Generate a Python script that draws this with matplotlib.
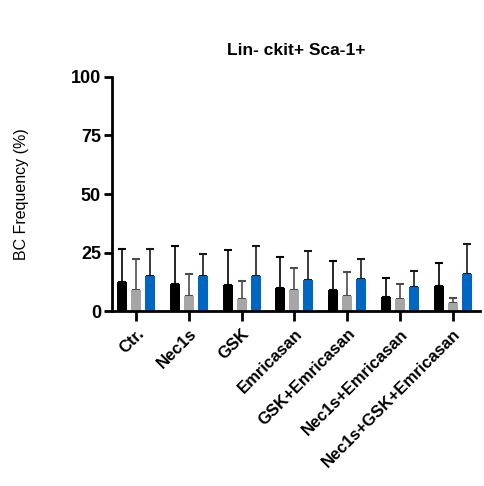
import matplotlib
matplotlib.use("Agg")
import matplotlib.pyplot as plt
import numpy as np

plt.rcParams['font.family'] = ['Liberation Sans', 'DejaVu Sans']

categories = ["Ctr.", "Nec1s", "GSK", "Emricasan", "GSK+Emricasan",
              "Nec1s+Emricasan", "Nec1s+GSK+Emricasan"]
black_vals = [12.5, 11.5, 11.0, 9.8, 8.8, 5.9, 10.7]
black_err  = [14.1, 16.4, 15.2, 13.4, 12.7, 8.1, 9.7]
gray_vals  = [9.0, 6.4, 5.3, 9.0, 6.4, 5.0, 3.3]
gray_err   = [13.2, 9.4, 7.7, 9.2, 10.1, 6.4, 2.4]
blue_vals  = [15.0, 15.0, 15.0, 13.1, 13.7, 10.4, 15.8]
blue_err   = [11.4, 9.5, 13.0, 12.7, 8.7, 6.8, 12.8]
yticks = [0, 25, 50, 75, 100]

fig = plt.figure(figsize=(4.84, 4.86), dpi=100)
ax = fig.add_axes([0.2314, 0.360, 0.7603, 0.4816])

x = np.arange(len(categories))
w = 0.19
off = 0.266
series = [
    (black_vals, black_err, '#000000', '#000000', -off),
    (gray_vals, gray_err, '#a6a6a6', '#4d4d4d', 0.0),
    (blue_vals, blue_err, '#0066c4', '#1a1a1a', off),
]
for vals, err, col, ecol, o in series:
    ax.bar(x + o, vals, width=w, color=col, edgecolor='none', zorder=2)
    ax.errorbar(x + o, vals, yerr=[np.zeros(len(vals)), err], fmt='none',
                ecolor=ecol, elinewidth=1.2, capsize=3, capthick=1.5, zorder=1)

ax.set_xlim(-0.46, 6.52)
ax.set_ylim(0, 100)
ax.set_yticks(yticks)
ax.set_yticklabels([str(v) for v in yticks], fontsize=13, fontweight='bold')
ax.set_xticks(x)
ax.set_xticklabels(categories, rotation=45, ha='right', rotation_mode='anchor',
                   fontsize=12, fontweight='bold')
for s in ['top', 'right']:
    ax.spines[s].set_visible(False)
for s in ['left', 'bottom']:
    ax.spines[s].set_linewidth(2.0)
ax.tick_params(axis='y', length=6, width=2.0, pad=2)
ax.tick_params(axis='x', length=7, width=2.0, pad=4)
ax.set_ylabel('BC Frequency (%)', fontsize=11.5, labelpad=30)
ax.set_title('Lin- ckit+ Sca-1+', fontsize=12.5, fontweight='bold', pad=16)

fig.savefig('out.png', dpi=100)
